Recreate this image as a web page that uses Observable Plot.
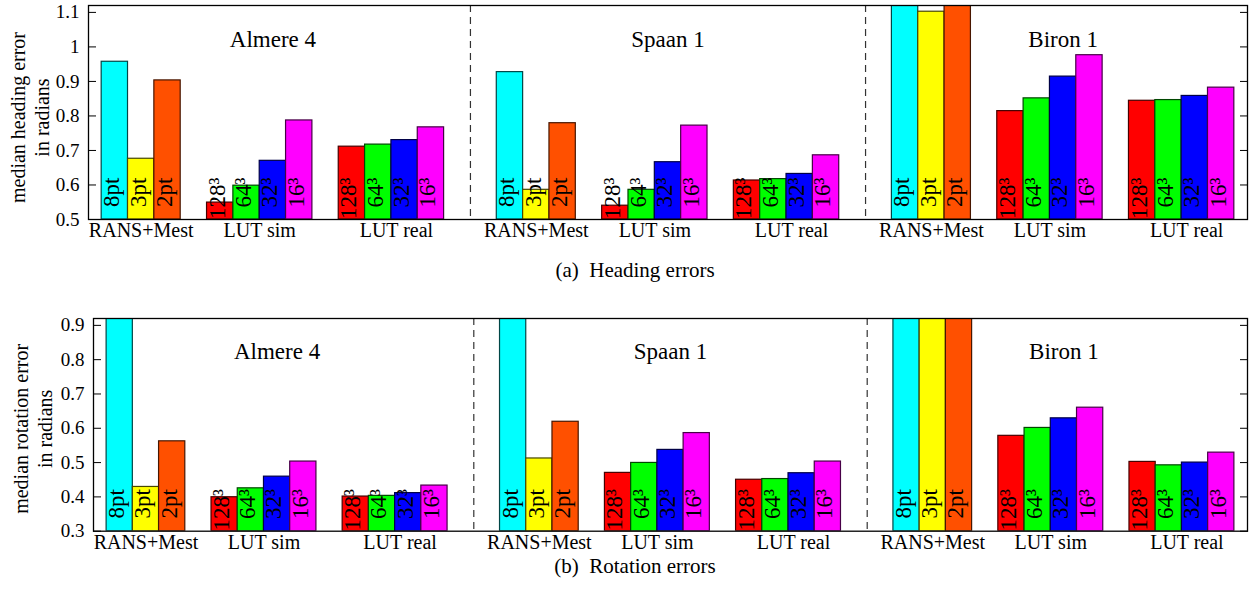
<!DOCTYPE html>
<html><head><meta charset="utf-8">
<script src="https://cdn.jsdelivr.net/npm/d3@7"></script>
<script src="https://cdn.jsdelivr.net/npm/@observablehq/plot@0.6"></script>
<style>
html,body{margin:0;padding:0;overflow:hidden;background:#fff;width:1249px;height:596px}
#root{position:relative;width:1249px;height:596px}
.panel{position:absolute;left:0}
.cap{position:absolute;font-family:"Liberation Serif","Times New Roman",serif;font-size:21px;line-height:21px;white-space:pre;transform:translateX(-50%);color:#000}
</style></head><body><div id="root"></div>
<script>
// ---------- data ----------
const datasets = ["Almere 4", "Spaan 1", "Biron 1"];
const groups = ["RANS+Mest", "LUT sim", "LUT real"];
const ransLabels = ["8pt", "3pt", "2pt"];
const lutLabels = ["128³", "64³", "32³", "16³"];
const ransColors = ["#00ffff", "#ffff00", "#ff5000"];
const lutColors = ["#ff0000", "#00ff00", "#0000ff", "#ff00ff"];

// (a) heading errors, one row per dataset
const headingRans    = [[0.957, 0.676, 0.903], [0.927, 0.586, 0.779], [1.25, 1.102, 1.22]];
const headingLutSim  = [[0.549, 0.598, 0.670, 0.787], [0.540, 0.586, 0.666, 0.772], [0.814, 0.851, 0.914, 0.976]];
const headingLutReal = [[0.711, 0.717, 0.730, 0.767], [0.613, 0.617, 0.632, 0.686], [0.844, 0.846, 0.858, 0.882]];
const headingTicks = [0.5, 0.6, 0.7, 0.8, 0.9, 1, 1.1];

// (b) rotation errors
const rotationRans    = [[1.05, 0.429, 0.562], [1.02, 0.512, 0.619], [1.10, 1.05, 0.98]];
const rotationLutSim  = [[0.399, 0.425, 0.459, 0.503], [0.470, 0.499, 0.537, 0.586], [0.578, 0.601, 0.629, 0.660]];
const rotationLutReal = [[0.401, 0.403, 0.411, 0.433], [0.450, 0.452, 0.469, 0.503], [0.502, 0.492, 0.500, 0.529]];
const rotationTicks = [0.3, 0.4, 0.5, 0.6, 0.7, 0.8, 0.9];

// ---------- layout in bar slots ----------
const groupSizes = [ransLabels.length, lutLabels.length, lutLabels.length];
const groupStarts = [];
{ let s = 0; for (const n of groupSizes) { groupStarts.push(s); s += n + 1; } }
const datasetSpan = groupStarts[2] + groupSizes[2];      // 13 slots of bars
const period = datasetSpan + 2;                            // 15
const totalSpan = period * (datasets.length - 1) + datasetSpan; // 43
const separators = datasets.slice(1).map((_, i) => period * (i + 1) - 1);

function buildRows(rans, sim, real) {
  const rows = [];
  datasets.forEach((ds, d) => {
    const sets = [[rans[d], ransLabels, ransColors], [sim[d], lutLabels, lutColors], [real[d], lutLabels, lutColors]];
    sets.forEach(([vals, labels, colors], g) => {
      vals.forEach((v, i) => {
        const x1 = d * period + groupStarts[g] + i;
        rows.push({dataset: ds, group: groups[g], label: labels[i], color: colors[i],
          edge: d3.interpolateRgb(colors[i], "#000")(0.72), value: v, x1, x2: x1 + 1, xc: x1 + 0.5});
      });
    });
  });
  return rows;
}
const titleRows = datasets.map((name, d) => ({name, xc: d * period + datasetSpan / 2}));
const groupRows = datasets.flatMap((ds, d) => groups.map((name, g) => ({name, g, xc: d * period + groupStarts[g] + groupSizes[g] / 2})));

const FONT = "'Liberation Serif', 'Times New Roman', serif";

function panel({rows, ticks, domain, ylabel, marginLeft, marginTop, marginBottom, height, labelDx, labelDy, titleDy}) {
  const base = domain[0];
  return Plot.plot({
    width: 1249, height, marginLeft, marginRight: 2, marginTop, marginBottom,
    style: {fontFamily: FONT, background: "transparent", color: "#000"},
    x: {domain: [-0.5, totalSpan + 0.5], axis: null},
    y: {domain, axis: null},
    marks: [
      Plot.rect(rows, {x1: "x1", x2: "x2", y1: base, y2: "value", fill: "color", stroke: "edge", strokeWidth: 1.2, clip: true}),
      Plot.text(rows, {x: "xc", y: base, text: "label", rotate: -90, textAnchor: "end", dy: -42, dx: -3, fontSize: 23, fontFamily: FONT, fill: "#000"}),
      Plot.ruleX(separators, {stroke: "#333", strokeWidth: 1.2, strokeDasharray: "7,5"}),
      Plot.frame({stroke: "#000", strokeWidth: 1.3}),
      Plot.axisY(ticks, {anchor: "left", tickSize: -8, tickPadding: 17, fontSize: 19, fontFamily: FONT, tickFormat: d3.format("~g"), label: null}),
      Plot.axisY(ticks, {anchor: "right", tickSize: -8, tickFormat: () => "", label: null}),
      Plot.text(titleRows, {x: "xc", text: "name", frameAnchor: "top", dy: titleDy, fontSize: 23, fontFamily: FONT}),
      Plot.text(groupRows.filter(r => r.g < 2), {x: "xc", text: "name", frameAnchor: "bottom", dy: 17.6, fontSize: 20, fontFamily: FONT}),
      Plot.text(groupRows.filter(r => r.g === 2), {x: "xc", text: "name", frameAnchor: "bottom", dx: 5, dy: 17.6, fontSize: 20, fontFamily: FONT}),
      Plot.text([ylabel], {text: d => d, frameAnchor: "left", textAnchor: "middle", lineAnchor: "middle", rotate: -90, dx: labelDx, dy: labelDy, fontSize: 20, lineHeight: 1.2, fontFamily: FONT})
    ]
  });
}

const root = document.getElementById("root");
function place(el, top) { const w = document.createElement("div"); w.className = "panel"; w.style.top = top + "px"; w.appendChild(el); root.appendChild(w); }
function caption(text, cx, baseline) { const c = document.createElement("div"); c.className = "cap"; c.textContent = text; c.style.left = cx + "px"; c.style.top = (baseline - 17.6) + "px"; root.appendChild(c); }

place(panel({
  rows: buildRows(headingRans, headingLutSim, headingLutReal), ticks: headingTicks, domain: [0.5, 1.12],
  ylabel: "median heading error\nin radians", marginLeft: 88, marginTop: 5, marginBottom: 31, height: 250,
  labelDx: -59.5, labelDy: 5, titleDy: 25.6
}), 0);
caption("(a)  Heading errors", 635, 278);

place(panel({
  rows: buildRows(rotationRans, rotationLutSim, rotationLutReal), ticks: rotationTicks, domain: [0.3, 0.92],
  ylabel: "median rotation error\nin radians", marginLeft: 93, marginTop: 18, marginBottom: 29.3, height: 260,
  labelDx: -61.5, labelDy: 4, titleDy: 24.3
}), 300);
caption("(b)  Rotation errors", 635, 574);
</script></body></html>
